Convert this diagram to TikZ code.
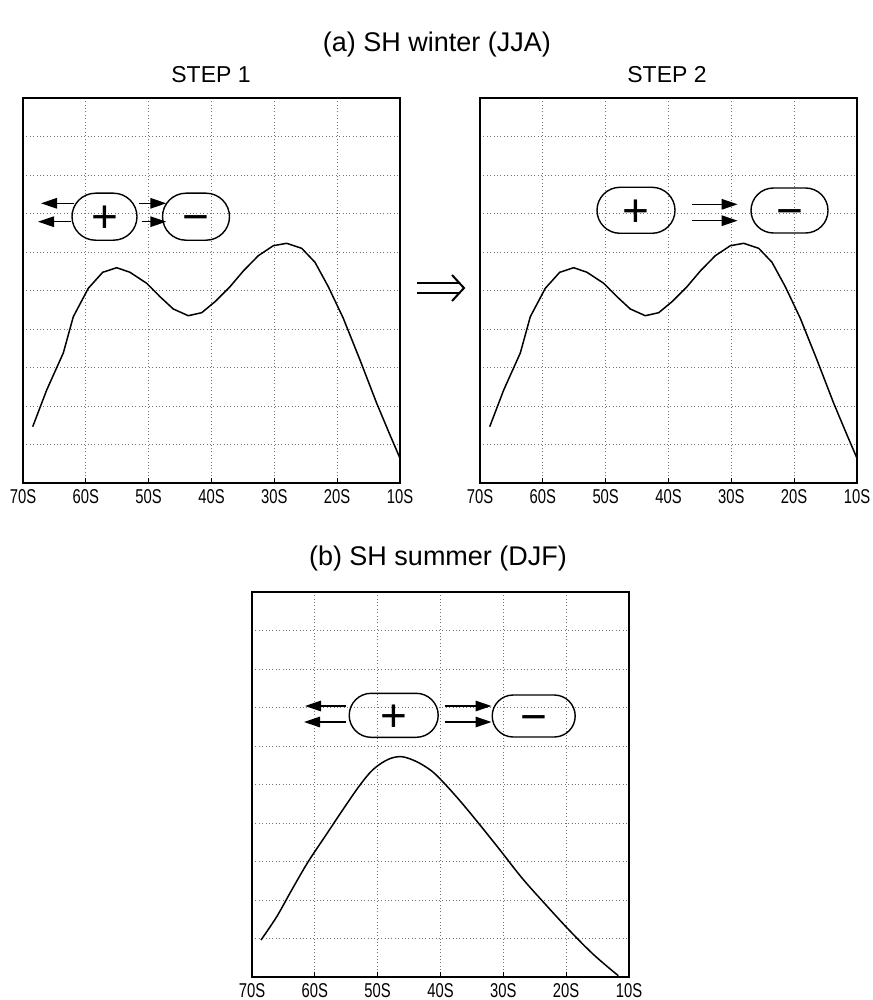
\documentclass[tikz,border=0pt]{standalone}
\usepackage{fontspec}
\setmainfont{Liberation Sans}
\newfontfamily\axisfont[FakeStretch=0.74]{Liberation Sans}
\usetikzlibrary{shapes.misc,arrows.meta}
\tikzset{
  gridln/.style={black!55, line width=0.7pt, dash pattern=on 1pt off 2.4pt},
  frm/.style={line width=1.8pt},
  tk/.style={line width=1pt},
  crv/.style={line width=1.5pt, line join=round},
  blob/.style={draw, rounded rectangle, line width=1.4pt, inner sep=0pt,
    text height=32.2pt, text depth=0pt, font=\fontsize{46}{46}\selectfont},
  arr/.style={line width=1.4pt, -{Triangle[length=16pt,width=10.5pt]}},
  axlab/.style={font=\axisfont\fontsize{20}{21}\selectfont, inner sep=0pt},
  ttl/.style={font=\fontsize{27}{30}\selectfont, inner sep=0pt, anchor=base},
  steplab/.style={font=\fontsize{23}{26}\selectfont, inner sep=0pt},
}
\newcommand\panelbox[3]{% #1 name, #2 left x, #3 bottom y
  \foreach \k in {1,...,9} \draw[gridln] (#2,#3-\k*38.5) -- (#2+377,#3-\k*38.5);
  \foreach \i in {1,...,5} \draw[gridln] (#2+\i*62.83,#3) -- (#2+\i*62.83,#3-385);
  \foreach \i in {1,...,5} \draw[tk] (#2+\i*62.83,#3) -- ++(0,-5);
  \draw[frm] (#2,#3-385) rectangle (#2+377,#3);
  \foreach \i/\t in {0/70S,1/60S,2/50S,3/40S,4/30S,5/20S,6/10S}
    \node[axlab, anchor=north] (#1lab\i) at (#2+\i*62.83,#3+6) {\t};
}
\begin{document}
\begin{tikzpicture}[x=1pt,y=-1pt]
\useasboundingbox[fill=white] (0,0) rectangle (872,1000);

% titles
\node[ttl] (ta) at (437,52) {(a) SH winter (JJA)};
\node[steplab] (s1) at (211,75) {STEP 1};
\node[steplab] (s2) at (667,75) {STEP 2};
\node[ttl] (tb) at (438,565) {(b) SH summer (DJF)};

% panels
\panelbox{pa}{23}{483}
\panelbox{pb}{480}{483}
\panelbox{pc}{252}{977}

% curve (a) step 1 and step 2
\foreach \dx in {0,457}{
\begin{scope}[xshift=\dx pt]
\draw[crv] (32.7,426.7) -- (46.7,390) -- (63.3,353) -- (73.3,316.7) -- (88.3,288.3)
 -- (102.7,272.3) -- (116.7,267.7) -- (130,272.3) -- (146.7,283.3) -- (160,296.7)
 -- (173.3,309) -- (188.3,315.7) -- (201.7,312.7) -- (215,301.7) -- (230,286.7)
 -- (243.3,271) -- (258.3,255.7) -- (273.3,245.7) -- (286.7,243.3) -- (301.7,248.3)
 -- (315,262.3) -- (328.3,286.7) -- (343.3,318.3) -- (360,360) -- (376.7,403.3)
 -- (390,435) -- (400,458.3);
\end{scope}}

% curve (b)
\draw[crv] plot[smooth, tension=0.55] coordinates {(261,940) (276.7,916.7) (291.7,890)
 (308,862) (326,835) (344,808) (360,785) (373.3,769.3) (388.3,759.3) (401.7,756.7)
 (416.7,761.7) (431.7,771) (444,783) (461,802) (480,825) (500,850) (522,878)
 (546,905) (570,931) (594,955) (618.3,975.7)};

% step 1 blobs
\node[blob, minimum width=65pt, minimum height=47pt] (p1) at (104.5,216.7) {+};
\node[blob, minimum width=67pt, minimum height=47pt] (m1) at (196,216.7) {−};
\coordinate (l1a) at (41,203.3);
\coordinate (l1b) at (38,221.7);
\draw[arr] ([shift={(3,-13.4)}]p1.west) -- (l1a);
\draw[arr] ([shift={(0,5)}]p1.west) -- (l1b);
\draw[arr] ([shift={(1,-13.4)}]p1.east) -- ([shift={(4.5,-13.4)}]m1.west);
\draw[arr] ([shift={(4,5)}]p1.east) -- ([shift={(4.5,5)}]m1.west);

% step 2 blobs
\node[blob, minimum width=78pt, minimum height=46pt] (p2) at (636,210.3) {+};
\node[blob, minimum width=77pt, minimum height=45pt] (m2) at (789.5,210.5) {−};
\draw[arr] ([shift={(16,-6)}]p2.east) -- ([shift={(-12.7,-6.2)}]m2.west);
\draw[arr] ([shift={(16,10.4)}]p2.east) -- ([shift={(-12.7,10.2)}]m2.west);

% implies arrow
\draw[line width=2pt] (417,282.7) -- (459,282.7);
\draw[line width=2pt] (417,293.3) -- (459,293.3);
\draw[line width=2pt, line join=miter] (452,275) -- (464,288) -- (452,301);

% summer blobs
\node[blob, minimum width=89pt, minimum height=44pt] (p3) at (393.7,715.3) {+};
\node[blob, minimum width=83pt, minimum height=42pt] (m3) at (533.7,716) {−};
\coordinate (l3a) at (305,706);
\coordinate (l3b) at (304,722);
\draw[arr] ([shift={(-2.5,-9.3)}]p3.west) -- (l3a);
\draw[arr] ([shift={(-2.5,6.7)}]p3.west) -- (l3b);
\draw[arr] ([shift={(5.8,-9.3)}]p3.east) -- ([shift={(0,-10)}]m3.west);
\draw[arr] ([shift={(5.8,6.7)}]p3.east) -- ([shift={(0,6)}]m3.west);
\end{tikzpicture}
\end{document}
